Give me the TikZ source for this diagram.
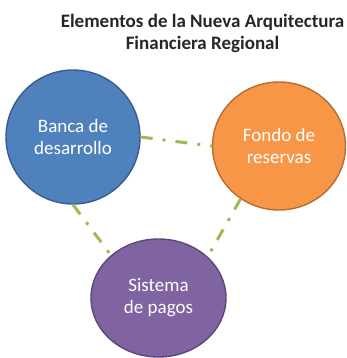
\documentclass[tikz,border=0pt]{standalone}
\usepackage{fontspec}
\setmainfont{Carlito}
\usetikzlibrary{shapes.geometric}
\definecolor{bluefill}{HTML}{4F81BD}
\definecolor{blueline}{HTML}{385D8A}
\definecolor{orangefill}{HTML}{F79646}
\definecolor{orangeline}{HTML}{B66D31}
\definecolor{purplefill}{HTML}{8064A2}
\definecolor{purpleline}{HTML}{5C4776}
\definecolor{linkgreen}{HTML}{9BBB59}
\definecolor{titlegray}{HTML}{262626}
\tikzset{
  bubble/.style={ellipse, inner sep=0pt, line width=1.4pt, align=center,
    text=white, font=\fontsize{19}{22}\selectfont},
  link/.style={draw=linkgreen, line width=3pt,
    dash pattern=on 12pt off 10pt on 3pt off 10pt},
  titletext/.style={align=center, inner sep=0pt, text=titlegray,
    font=\fontsize{19}{22}\selectfont\bfseries}
}
\begin{document}
\begin{tikzpicture}[x=1pt,y=-1pt]
\useasboundingbox (0,0) rectangle (346,358);
\node[titletext, anchor=north] (title) at (202.5,14) {Elementos de la Nueva Arquitectura\\Financiera Regional};
\node[bubble, fill=bluefill, draw=blueline, minimum width=134pt, minimum height=134pt] (banca) at (73,137) {Banca de\\desarrollo};
\node[bubble, fill=orangefill, draw=orangeline, minimum width=133pt, minimum height=128pt] (fondo) at (279,146) {Fondo de\\reservas};
\node[bubble, fill=purplefill, draw=purpleline, minimum width=135pt, minimum height=118pt] (sistema) at (158.5,298) {Sistema\\de pagos};
\draw[link] (banca.east) -- (fondo.west);
\draw[link] (banca.south) -- (sistema.138);
\draw[link] (fondo.234.6) -- (sistema.40.8);
\end{tikzpicture}
\end{document}
